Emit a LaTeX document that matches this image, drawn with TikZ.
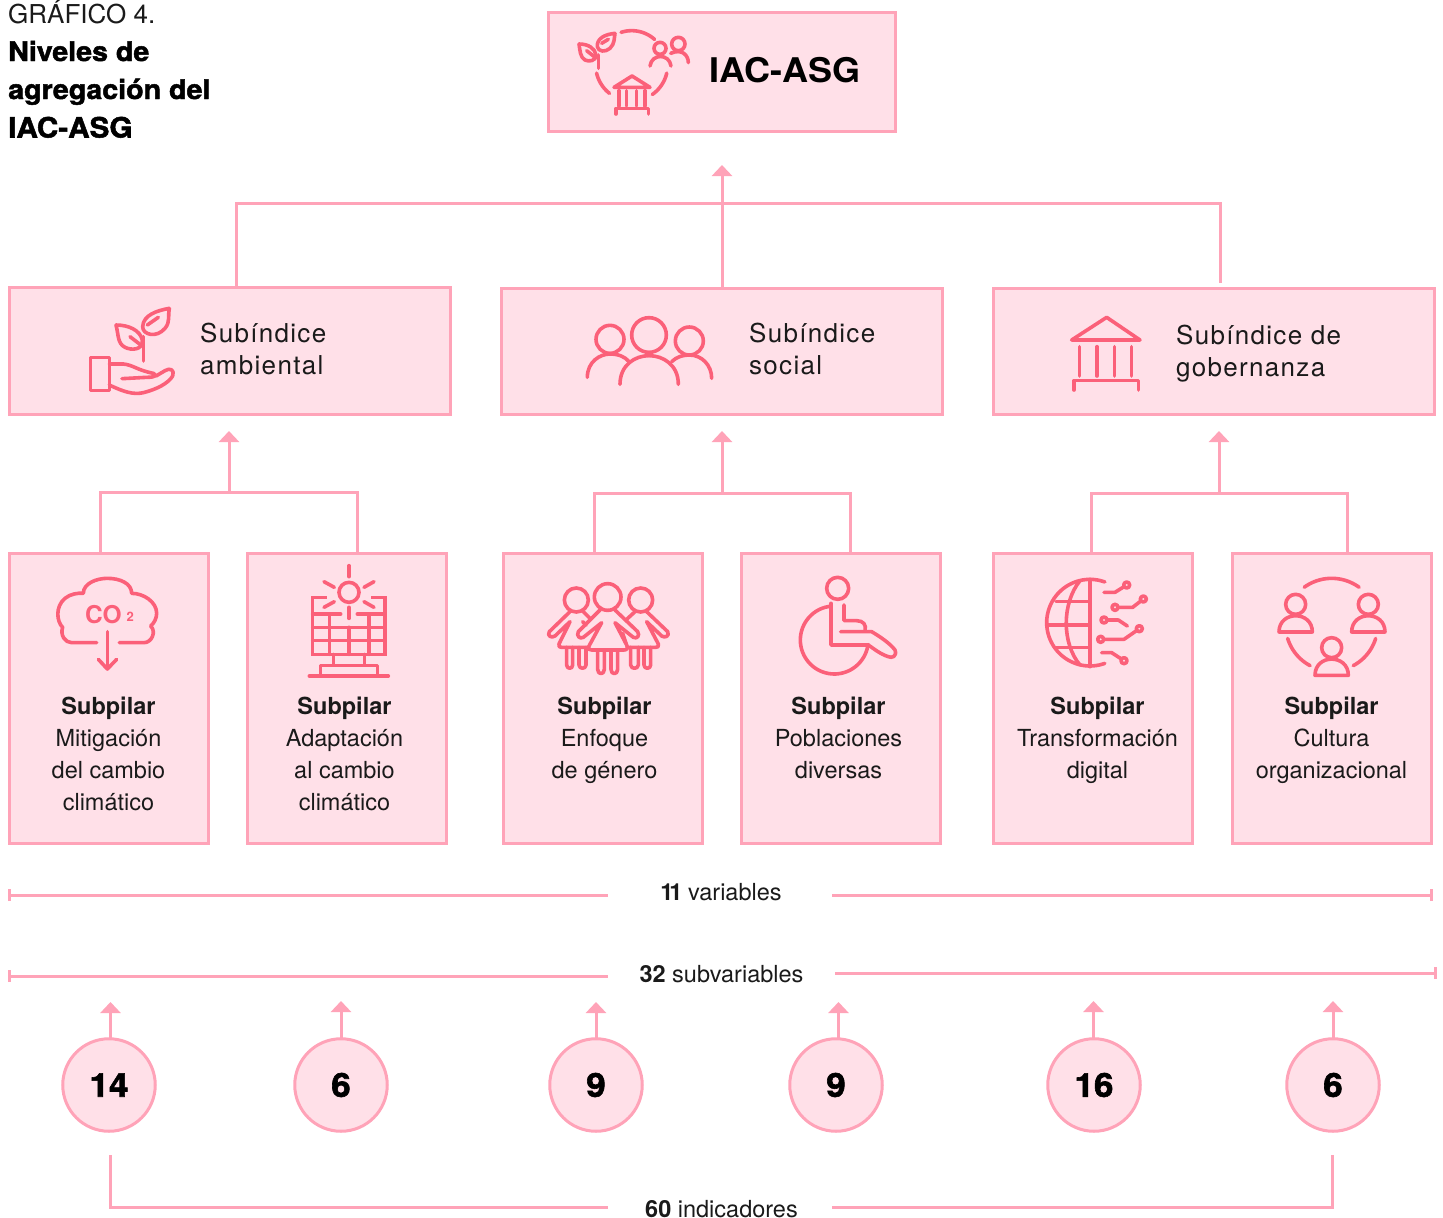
\documentclass[tikz,border=0pt]{standalone}
\usepackage{fontspec}
\usetikzlibrary{arrows.meta}
\setmainfont{TeX Gyre Heros}
\newfontfamily\blk[BoldFeatures={FakeBold=1.8,FakeStretch=1.06}]{TeX Gyre Heros}
\newfontfamily\wid[BoldFeatures={FakeStretch=1.06}]{TeX Gyre Heros}
\newfontfamily\trk[LetterSpace=5]{TeX Gyre Heros}
\definecolor{lnpink}{HTML}{FFA3B8}
\definecolor{fillpink}{HTML}{FFE0E8}
\definecolor{icn}{HTML}{FB6079}
\definecolor{ink}{HTML}{1A1A1A}
\newcommand{\fs}[1]{\fontsize{#1}{#1}\selectfont}
\newcommand{\carc}[5]{\draw plot[domain=#4:#5,samples=30,smooth]({#1+#3*cos(\x)},{#2-#3*sin(\x)});}
\tikzset{
  bx/.style={draw=lnpink,fill=fillpink,line width=3pt,rectangle,inner sep=0pt,outer sep=0pt},
  circ/.style={draw=lnpink,fill=fillpink,line width=3pt,circle,minimum size=92.5pt,inner sep=0pt,outer sep=0pt,text=black,font=\blk\bfseries\fs{33}},
  conn/.style={draw=lnpink,line width=3pt},
  arr/.style={conn,-{Triangle[width=20pt,length=11pt]}},
  ico/.style={draw=icn,line width=3.6pt,line cap=round,line join=round},
  zm/.style 2 args={shift={(#1,#2)},x=0.33333pt,y=-0.33333pt,ico},
  ptx/.style={anchor=north,align=center,inner sep=0pt,text=ink,font=\fontsize{23.5}{32}\selectfont},
  sbx/.style={anchor=base west,inner sep=0pt,text=ink,font=\trk\fs{26}},
  lab/.style={inner sep=0pt,text=ink,font=\fs{23.5},text height=17pt,text depth=0pt},
  ttl/.style={anchor=base west,inner sep=0pt,text=black,font=\blk\bfseries\fs{27}}
}
\begin{document}
\begin{tikzpicture}[x=1pt,y=-1pt]
\useasboundingbox (0,0) rectangle (1443,1218);
% title
\node[anchor=base west,inner sep=0pt,text=ink,font=\fs{26}] (t0) at (8,23.5) {GRÁFICO 4.};
\node[ttl] (t1) at (8,61) {Niveles de};
\node[ttl] (t2) at (8,99) {agregación del};
\node[ttl,font=\blk\bfseries\fs{28}] (t3) at (8,137.5) {IAC-ASG};
% boxes
\node[bx,minimum width=347pt,minimum height=119pt] (top) at (721.5,71.5) {};
\node[bx,minimum width=441pt,minimum height=127pt] (s1) at (229.5,350.5) {};
\node[bx,minimum width=441pt,minimum height=126pt] (s2) at (721.5,351) {};
\node[bx,minimum width=441pt,minimum height=126pt] (s3) at (1214,351) {};
\foreach \n/\c in {p1/109,p2/347,p3/603,p4/841,p5/1093,p6/1332}{
  \node[bx,minimum width=199pt,minimum height=290pt] (\n) at (\c,698) {};
}
\node[anchor=base west,inner sep=0pt,text=black,font=\wid\bfseries\fs{34}] (toplab) at (709,82) {IAC-ASG};
\node[sbx] (s1a) at (200,342) {Subíndice};
\node[sbx] (s1b) at (200,374) {ambiental};
\node[sbx] (s2a) at (749,342) {Subíndice};
\node[sbx] (s2b) at (749,374) {social};
\node[sbx] (s3a) at (1176,344) {Subíndice de};
\node[sbx] (s3b) at (1176,376) {gobernanza};
% pillar text
\newcommand{\ptxt}[4]{\node[ptx] (#1) at (#2,697) {\textbf{Subpilar}\\#3\\#4};}
\ptxt{x1}{108.5}{Mitigación\\del cambio}{climático}
\ptxt{x2}{344.5}{Adaptación\\al cambio}{climático}
\ptxt{x3}{604.5}{Enfoque}{de género}
\ptxt{x4}{838.5}{Poblaciones}{diversas}
\ptxt{x5}{1097.5}{Transformación}{digital}
\ptxt{x6}{1331.5}{Cultura}{organizacional}
% connectors top level
\coordinate (tip0) at (722,165);
\coordinate (j0) at (722,203);
\coordinate (j0a) at (236.5,203);
\coordinate (j0b) at (1220.5,203);
\coordinate (e0b) at (1220.5,283);
\draw[arr] (j0 |- s2.north) -- (tip0);
\draw[conn] (j0a |- s1.north) -- (j0a) -- (j0b) -- (e0b);
% connectors mid
\foreach \tipx/\y/\ax/\bx/\pa/\pb/\nm in {229/492.5/100.5/357/p1/p2/a,722/493/594/850.5/p3/p4/b,1219/493/1091/1347.5/p5/p6/c}{
  \coordinate (tip\nm) at (\tipx,431);
  \coordinate (jn\nm) at (\tipx,\y);
  \coordinate (ja\nm) at (\ax,\y);
  \coordinate (jb\nm) at (\bx,\y);
  \draw[arr] (jn\nm) -- (tip\nm);
  \draw[conn] (ja\nm |- \pa.north) -- (ja\nm) -- (jb\nm) -- (jb\nm |- \pb.north);
}
% ranges
\node[lab,minimum width=224pt] (l1) at (720,891.5) {\hspace*{2pt}\textbf{1\kern-4pt 1}\kern-1pt\ variables};
\node[lab,minimum width=227pt] (l2) at (721.5,973.5) {\textbf{32} subvariables};
\node[lab,minimum width=224pt] (l3) at (720,1208.5) {\hspace*{3pt}\textbf{60} indicadores};
\coordinate (r1a) at (9,895); \coordinate (r1b) at (1431,895);
\coordinate (r2a) at (9,976); \coordinate (r2b) at (1435,973);
\draw[conn] (r1a) -- (r1a -| l1.west);
\draw[conn] (r1b -| l1.east) -- (r1b);
\draw[conn] (r2a) -- (r2a -| l2.west);
\draw[conn] (r2b -| l2.east) -- (r2b);
\foreach \p in {r1a,r1b,r2a,r2b}{\draw[conn] ([yshift=-6pt]\p) -- ([yshift=6pt]\p);}
% circles
\foreach \n/\cx/\ax/\lbl/\ty in {c1/109/110.5/14/1002,c2/341/341/6/1001,c3/596/596/9/1002,c4/836/838.5/9/1002,c5/1094/1093.5/16/1001,c6/1333/1333/6/1001}{
  \node[circ] (\n) at (\cx,1085) {\lbl};
  \coordinate (a\n) at (\ax,\ty);
  \draw[arr] (a\n |- \n.north) -- (a\n);
}
\coordinate (b1) at (110.5,1155); \coordinate (b2) at (110.5,1207);
\coordinate (b3) at (1332.5,1155); \coordinate (b4) at (1332.5,1207);
\draw[conn] (b1) -- (b2) -- (b2 -| l3.west);
\draw[conn] (b4 -| l3.east) -- (b4) -- (b3);
%%% ICONS
% top icon
\begin{scope}[zm={540}{0}]
 \carc{275}{195}{103}{48}{108}
 \carc{275}{195}{108}{193}{232}
 \carc{275}{195}{108}{-55}{-13}
 \draw (175,205)--(175,165);
 \draw (225,100) .. controls (195,103) and (170,115) .. (172,140) .. controls (175,155) and (195,158) .. (210,145) .. controls (225,130) and (222,115) .. (225,100);
 \draw (185,130)--(205,118);
 \draw (117,132) .. controls (145,132) and (165,145) .. (168,165) .. controls (168,185) and (145,185) .. (135,180) .. controls (120,172) and (120,150) .. (117,132);
 \draw (140,152)--(165,172);
 \draw (360,145) circle (18);
 \draw (415,132) circle (20);
 \draw (330,198) .. controls (335,160) and (388,160) .. (393,198);
 \draw (392,160) .. controls (425,145) and (445,165) .. (445,188);
 \draw (222,262)--(276,228)--(330,262)--cycle;
 \foreach \q in {237,260,290,315}{\draw (\q,272)--(\q,318);}
 \draw (228,342)--(228,325)--(325,325)--(325,342);
\end{scope}
% hand & plant
\begin{scope}[zm={0}{280}]
 \draw[line cap=butt] (272,233) rectangle (328,332);
 \draw (328,252) -- (370,252) .. controls (400,255) and (410,270) .. (460,280) .. controls (470,285) and (470,292) .. (440,292) -- (366,296);
 \draw (328,315) .. controls (370,335) and (400,345) .. (430,338) .. controls (470,328) and (505,310) .. (518,288) .. controls (525,270) and (510,262) .. (495,272) -- (468,288);
 \draw (431,243)--(431,170);
 \draw (508,85) .. controls (470,92) and (430,105) .. (428,140) .. controls (428,165) and (470,175) .. (495,145) .. controls (512,125) and (503,105) .. (508,85);
 \draw (442,135)--(475,112);
 \draw (348,135) .. controls (385,135) and (420,150) .. (427,180) .. controls (430,210) and (395,212) .. (375,202) .. controls (352,190) and (356,165) .. (348,135);
 \draw (390,170)--(425,197);
\end{scope}
% three people
\begin{scope}[zm={560}{290}]
 \draw (150,148) circle (42);
 \draw (267,135) circle (52);
 \draw (388,153) circle (42);
 \draw (82,262) .. controls (82,215) and (120,192) .. (150,192) .. controls (175,192) and (195,200) .. (207,215);
 \draw (180,283) .. controls (180,225) and (225,197) .. (267,197) .. controls (310,197) and (355,225) .. (355,283);
 \draw (335,215) .. controls (350,200) and (370,195) .. (388,195) .. controls (425,195) and (455,225) .. (455,265);
\end{scope}
% temple
\begin{scope}[zm={1050}{290}]
 \draw (65,150)--(170,82)--(270,150)--cycle;
 \foreach \q in {89,141,193,245}{\draw (\q,170)--(\q,258);}
 \draw (72,300)--(72,272)--(265,272)--(265,300);
\end{scope}
% CO2
\begin{scope}[zm={0}{550}]
 \draw (290,278)--(215,278) .. controls (195,278) and (180,255) .. (188,232) .. controls (170,215) and (165,170) .. (195,145) .. controls (210,132) and (235,128) .. (250,130) .. controls (250,100) and (290,85) .. (322,85) .. controls (360,85) and (395,100) .. (395,130) .. controls (430,130) and (470,155) .. (470,190) .. controls (470,205) and (462,220) .. (452,228) .. controls (470,245) and (455,278) .. (432,278) -- (358,278);
 \draw (322,245)--(322,355);
 \draw (295,328)--(322,357)--(350,328);
 \node[inner sep=0pt,text=icn,font=\bfseries\fs{24.5}] (co) at (310,195) {CO};
 \node[inner sep=0pt,text=icn,font=\bfseries\fs{13}] (two) at (391,201) {2};
 % solar
 \draw (1047,127) circle (30);
 \draw (1047,47)--(1047,80); \draw (1047,172)--(1047,205);
 \draw (972,95)--(1003,112); \draw (1122,95)--(1092,112);
 \draw (972,172)--(1003,155); \draw (1122,172)--(1092,155);
 \draw[line cap=butt,line join=miter] (980,143)--(938,143)--(938,313)--(1155,313)--(1155,143)--(1112,143);
 \draw (938,192)--(1022,192); \draw (1072,192)--(1155,192);
 \draw (938,232)--(1155,232); \draw (938,272)--(1155,272);
 \draw (988,192)--(988,313); \draw (1047,232)--(1047,313); \draw (1107,192)--(1107,313);
 \draw (1000,313)--(1000,345); \draw (1093,313)--(1093,345);
 \draw (962,378)--(962,347)--(1132,347)--(1132,378);
 \draw (928,378)--(1165,378);
\end{scope}
% girls & wheelchair
\begin{scope}[zm={500}{550}]
 \draw (229,150) circle (36);
 \draw (323,141) circle (40);
 \draw (422,150) circle (36);
 % left
 \draw (210,185)--(148,245) .. controls (140,258) and (155,265) .. (165,258) -- (210,215) -- (177,282) .. controls (175,290) and (178,292) .. (185,292) -- (265,292);
 \draw (250,185)--(270,205); \draw (248,215)--(258,225);
 \draw (200,292)--(200,345) .. controls (200,358) and (218,358) .. (218,345)--(218,292);
 \draw (237,292)--(237,345) .. controls (237,358) and (258,358) .. (258,345)--(258,292);
 % centre
 \draw (300,180)--(235,245) .. controls (228,258) and (240,268) .. (250,262)--(305,218)--(267,288) .. controls (263,298) and (268,300) .. (275,300)--(372,300) .. controls (382,300) and (384,294) .. (380,285)--(345,218)--(400,262) .. controls (412,268) and (420,256) .. (413,245)--(345,180);
 \draw (293,300)--(293,358) .. controls (293,375) and (313,375) .. (313,358)--(313,300);
 \draw (333,300)--(333,358) .. controls (333,375) and (353,375) .. (353,358)--(353,300);
 % right
 \draw (440,185)--(503,245) .. controls (510,258) and (495,265) .. (485,258)--(440,215)--(475,282) .. controls (477,290) and (474,292) .. (467,292)--(385,292);
 \draw (405,185)--(380,208); \draw (368,250)--(378,280);
 \draw (392,292)--(392,345) .. controls (392,358) and (415,358) .. (415,345)--(415,292);
 \draw (432,292)--(432,345) .. controls (432,358) and (452,358) .. (452,345)--(452,292);
 % wheelchair
 \draw (1013,115) circle (33);
 \carc{1003}{270}{102}{97}{352}
 \draw (993,160)--(993,285)--(1105,285);
 \draw (1032,165)--(1032,212)--(1070,212) .. controls (1090,212) and (1100,225) .. (1095,242);
 \draw (1022,245)--(1115,245) .. controls (1140,260) and (1170,280) .. (1185,300) .. controls (1192,320) and (1175,325) .. (1165,320) .. controls (1140,312) and (1120,295) .. (1105,285);
\end{scope}
% globe & org
\begin{scope}[zm={990}{550}]
 \carc{300}{218}{130}{70}{290}
 \draw (300,88)--(300,350);
 \draw (270,92) .. controls (215,160) and (215,280) .. (270,345);
 \draw (198,155)--(300,155); \draw (175,225)--(300,225); \draw (198,293)--(300,293);
 \draw (342,127)--(375,127)--(410,105);
 \draw (375,172)--(428,172)--(460,147);
 \draw (342,210)--(385,210)--(412,228);
 \draw (332,268)--(402,268)--(448,236);
 \draw (335,308)--(365,308)--(402,332);
 \foreach \u/\v in {410/105,375/172,460/147,342/210,332/268,448/236,402/332}{\draw[fill=fillpink] (\u,\v) circle (9);}
 % org
 \carc{1025}{225}{140}{54}{126}
 \carc{1025}{225}{138}{197}{242}
 \carc{1025}{225}{138}{298}{343}
 \foreach \u/\v in {917/163,1135/163,1025/293}{
   \draw (\u,\v) circle (30);
   \draw (\u-50,\v+83) .. controls (\u-50,\v+18) and (\u+50,\v+18) .. (\u+50,\v+83) -- cycle;
 }
\end{scope}
\end{tikzpicture}
\end{document}
